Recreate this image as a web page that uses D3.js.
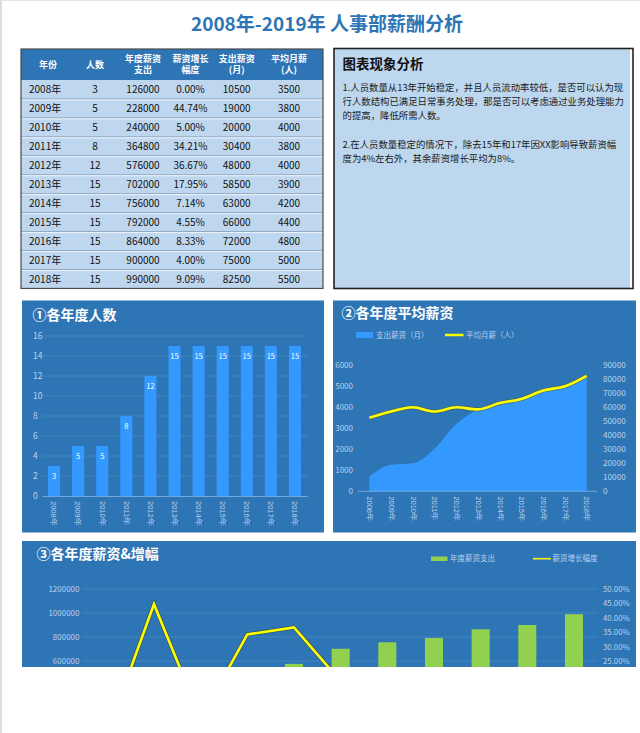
<!DOCTYPE html>
<html><head><meta charset="utf-8">
<script src="https://cdn.jsdelivr.net/npm/d3@7"></script>
<style>
html,body{margin:0;padding:0;background:#fff;}
svg{display:block;font-family:"Noto Sans CJK SC","Microsoft YaHei",sans-serif;}
</style></head>
<body>
<svg id="c" width="640" height="733"></svg>
<script>
// ---------- data ----------
const years = ['2008年','2009年','2010年','2011年','2012年','2013年','2014年','2015年','2016年','2017年','2018年'];
const headcount = [3,5,5,8,12,15,15,15,15,15,15];
const annualPay = [126000,228000,240000,364800,576000,702000,756000,792000,864000,900000,990000];
const growthRate = [0,0.4474,0.05,0.3421,0.3667,0.1795,0.0714,0.0455,0.0833,0.04,0.0909];
const monthlyPay = [10500,19000,20000,30400,48000,58500,63000,66000,72000,75000,82500];
const avgMonthly = [3500,3800,4000,3800,4000,3900,4200,4400,4800,5000,5500];
const headers = [['年份'],['人数'],['年度薪资','支出'],['薪资增长','幅度'],['支出薪资','(月)'],['平均月薪','(人)']];
const countTicks = [0,2,4,6,8,10,12,14,16];
const salaryTicks = [0,1000,2000,3000,4000,5000,6000];
const monthTicks = [0,10000,20000,30000,40000,50000,60000,70000,80000,90000];
const payTicks = [0,200000,400000,600000,800000,1000000,1200000];
const rateTicks = [0,0.05,0.1,0.15,0.2,0.25,0.3,0.35,0.4,0.45,0.5];
const analysisTitle = '图表现象分析';
const analysisLines = ['1.人员数量从13年开始稳定，并且人员流动率较低，是否可以认为现','行人数结构已满足日常事务处理，那是否可以考虑通过业务处理能力','的提高，降低所需人数。','','2.在人员数量稳定的情况下，除去15年和17年因XX影响导致薪资幅','度为4%左右外，其余薪资增长平均为8%。'];

const svg = d3.select('#c');
const BG = '#2e75b6', BAR = '#3399ff', AX = '#bcd0ea', GRID = 'rgba(255,255,255,0.10)', YEL = '#ffff00', GRN = '#92d050';

// page edges
svg.append('rect').attr('x',0).attr('y',0).attr('width',2).attr('height',733).attr('fill','#dcdcdc');
svg.append('rect').attr('x',0).attr('y',0).attr('width',640).attr('height',1).attr('fill','#e4e4e4');

// title
svg.append('text').attr('x',327).attr('y',31).attr('text-anchor','middle')
  .attr('font-size',19).attr('font-weight','bold').attr('fill','#2e75b6').text('2008年-2019年 人事部薪酬分析');

// ---------- table ----------
const tX = 21, tW = 302, hdrTop = 49, hdrH = 31, rowH = 18.95;
const colC = [42, 95, 143, 190.5, 236.7, 289];
svg.append('rect').attr('x',tX).attr('y',hdrTop).attr('width',tW).attr('height',hdrH).attr('fill','#2e75b6');
headers.forEach((h,i)=>{
  const t = svg.append('text').attr('x', i===0?48:colC[i]).attr('text-anchor','middle')
    .attr('font-size',9).attr('font-weight','bold').attr('fill','#fff');
  if(h.length===1){ t.attr('y',hdrTop+hdrH/2+3.5).text(h[0]); }
  else { h.forEach((s,k)=> t.append('tspan').attr('x',colC[i]).attr('y',hdrTop+12.5+k*11.7).text(s)); }
});
const rowsTop = hdrTop+hdrH;
svg.append('rect').attr('x',tX).attr('y',rowsTop).attr('width',tW).attr('height',rowH*years.length).attr('fill','#bfd7ee');
years.forEach((y,i)=>{
  const ry = rowsTop + i*rowH;
  if(i>0){
    svg.append('line').attr('x1',tX).attr('x2',tX+tW).attr('y1',ry).attr('y2',ry).attr('stroke','#8fa6c0').attr('stroke-width',1);
    svg.append('line').attr('x1',tX).attr('x2',tX+tW).attr('y1',ry+1).attr('y2',ry+1).attr('stroke','#eef5fc').attr('stroke-width',1);
  }
  const vals = [y, headcount[i], annualPay[i], (growthRate[i]*100).toFixed(2)+'%', monthlyPay[i], avgMonthly[i]];
  vals.forEach((v,j)=>{
    svg.append('text').attr('x', j===0?29:colC[j]).attr('y', ry+rowH/2+3.6)
      .attr('text-anchor', j===0?'start':'middle').attr('font-size',10).attr('fill','#111').text(v);
  });
});
svg.append('rect').attr('x',tX).attr('y',hdrTop).attr('width',tW).attr('height',hdrH+rowH*years.length)
  .attr('fill','none').attr('stroke','#4a4a4a').attr('stroke-width',1.2);

// ---------- analysis box ----------
svg.append('rect').attr('x',334).attr('y',48.5).attr('width',299).attr('height',240).attr('fill','#fdfdfd');
svg.append('rect').attr('x',334).attr('y',48.5).attr('width',296).attr('height',240).attr('fill','#bdd7ee');
svg.append('rect').attr('x',334).attr('y',48.5).attr('width',299).attr('height',240).attr('fill','none').attr('stroke','#222').attr('stroke-width',1.6);
svg.append('text').attr('x',342.5).attr('y',69).attr('font-size',13.5).attr('font-weight','bold').attr('fill','#111').text(analysisTitle);
analysisLines.forEach((s,i)=>{
  if(!s) return;
  svg.append('text').attr('x',342.5).attr('y',91+i*14.2).attr('font-size',9.4).attr('fill','#1a1a1a').text(s);
});

function styleAxisText(g, size){
  g.selectAll('text').attr('fill',AX).attr('font-size',size).attr('font-family','"Noto Sans CJK SC",sans-serif');
  g.select('.domain').remove();
}
function rotLabels(g){
  g.selectAll('text').attr('transform','rotate(90)').attr('x',5).attr('y',0).attr('dy','0.36em')
    .style('text-anchor','start').attr('fill',AX).attr('font-size',7.5);
}

// ---------- chart 1 ----------
{
  svg.append('rect').attr('x',22).attr('y',300.5).attr('width',302).attr('height',232).attr('fill',BG);
  svg.append('text').attr('x',32.5).attr('y',320).attr('font-size',14).attr('font-weight','bold').attr('fill','#fff').text('①各年度人数');
  const x = d3.scaleBand().domain(years).range([42,307]).paddingInner(0.5).paddingOuter(0.25);
  const y = d3.scaleLinear().domain([0,16]).range([496,336]);
  svg.append('g').selectAll('line').data(countTicks.slice(1)).join('line')
    .attr('x1',42).attr('x2',307).attr('y1',d=>y(d)).attr('y2',d=>y(d)).attr('stroke',GRID);
  const ya = svg.append('g').attr('transform','translate(33,0)').call(d3.axisRight(y).tickValues(countTicks).tickSize(0).tickPadding(0));
  styleAxisText(ya, 8.5);
  svg.append('g').selectAll('rect').data(headcount).join('rect')
    .attr('x',(d,i)=>x(years[i])).attr('y',d=>y(d)).attr('width',x.bandwidth()).attr('height',d=>y(0)-y(d)).attr('fill',BAR);
  svg.append('g').selectAll('text').data(headcount).join('text')
    .attr('x',(d,i)=>x(years[i])+x.bandwidth()/2).attr('y',d=>y(d)+13).attr('text-anchor','middle')
    .attr('font-size',7.5).attr('fill','#fff').text(d=>d);
  const xa = svg.append('g').attr('transform',`translate(0,${y(0)})`).call(d3.axisBottom(x).tickSize(0).tickPadding(0));
  xa.select('.domain').attr('stroke','#6fa8de').attr('stroke-width',1);
  rotLabels(xa);
}

// ---------- chart 2 ----------
{
  svg.append('rect').attr('x',333).attr('y',300.5).attr('width',303).attr('height',232).attr('fill',BG);
  svg.append('text').attr('x',341.5).attr('y',317.5).attr('font-size',14).attr('font-weight','bold').attr('fill','#fff').text('②各年度平均薪资');
  // legend
  svg.append('rect').attr('x',356).attr('y',332).attr('width',17).attr('height',6).attr('fill',BAR);
  svg.append('text').attr('x',376).attr('y',337.5).attr('font-size',7.5).attr('fill',AX).text('支出薪资（月）');
  svg.append('line').attr('x1',445).attr('x2',463.5).attr('y1',335).attr('y2',335).attr('stroke',YEL).attr('stroke-width',2.5);
  svg.append('text').attr('x',466).attr('y',337.5).attr('font-size',7.5).attr('fill',AX).text('平均月薪（人）');

  const x = d3.scalePoint().domain(years).range([369.3,586.7]);
  const yL = d3.scaleLinear().domain([0,6000]).range([491.3,365.3]);
  const yR = d3.scaleLinear().domain([0,90000]).range([491.3,365.3]);
  const area = d3.area().x((d,i)=>x(years[i])).y0(yR(0)).y1(d=>yR(d)).curve(d3.curveMonotoneX);
  svg.append('path').datum(monthlyPay).attr('d',area).attr('fill',BAR);
  const line = d3.line().x((d,i)=>x(years[i])).y(d=>yL(d)).curve(d3.curveMonotoneX);
  svg.append('path').datum(avgMonthly).attr('d',line).attr('fill','none').attr('stroke','#4f5f3a').attr('stroke-width',4.2).attr('stroke-opacity',0.6);
  svg.append('path').datum(avgMonthly).attr('d',line).attr('fill','none').attr('stroke',YEL).attr('stroke-width',2.6);
  const la = svg.append('g').attr('transform','translate(353,0)').call(d3.axisLeft(yL).tickValues(salaryTicks).tickSize(0).tickPadding(0).tickFormat(d3.format('d')));
  styleAxisText(la, 8);
  const ra = svg.append('g').attr('transform','translate(603,0)').call(d3.axisRight(yR).tickValues(monthTicks).tickSize(0).tickPadding(0).tickFormat(d3.format('d')));
  styleAxisText(ra, 8.2);
  svg.append('line').attr('x1',358).attr('x2',597.5).attr('y1',yR(0)).attr('y2',yR(0)).attr('stroke','#6fa8de');
  const xa = svg.append('g').attr('transform',`translate(0,${yR(0)})`).call(d3.axisBottom(x).tickSize(0).tickPadding(0));
  xa.select('.domain').remove();
  rotLabels(xa);
}

// ---------- chart 3 ----------
{
  const clip = svg.append('clipPath').attr('id','c3');
  clip.append('rect').attr('x',22).attr('y',541).attr('width',614).attr('height',126);
  const g = svg.append('g').attr('clip-path','url(#c3)');
  g.append('rect').attr('x',22).attr('y',541).attr('width',614).attr('height',126).attr('fill',BG);
  g.append('text').attr('x',36.5).attr('y',558.5).attr('font-size',14).attr('font-weight','bold').attr('fill','#fff').text('③各年度薪资&增幅');
  g.append('rect').attr('x',431).attr('y',556.5).attr('width',16.5).attr('height',4.5).attr('fill',GRN);
  g.append('text').attr('x',450).attr('y',561.2).attr('font-size',7.5).attr('fill',AX).text('年度薪资支出');
  g.append('line').attr('x1',533).attr('x2',551).attr('y1',558.7).attr('y2',558.7).attr('stroke',YEL).attr('stroke-width',1.6);
  g.append('text').attr('x',552.5).attr('y',561.2).attr('font-size',7.5).attr('fill',AX).text('薪资增长幅度');

  const x = d3.scaleBand().domain(years).range([84,597.3]).paddingInner(0.614).paddingOuter(0.307);
  const yL = d3.scaleLinear().domain([0,1200000]).range([733,589]);
  const yR = d3.scaleLinear().domain([0,0.5]).range([733,589]);
  const bottom = 668;
  g.append('g').selectAll('line').data(payTicks.slice(1)).join('line')
    .attr('x1',83).attr('x2',597).attr('y1',d=>yL(d)).attr('y2',d=>yL(d)).attr('stroke',GRID);
  g.append('g').selectAll('rect').data(annualPay).join('rect')
    .attr('x',(d,i)=>x(years[i])).attr('y',d=>yL(d)).attr('width',x.bandwidth()).attr('height',d=>yL(0)-yL(d)).attr('fill',GRN);
  const line = d3.line().x((d,i)=>x(years[i])+x.bandwidth()/2).y(d=>yR(d));
  g.append('path').datum(growthRate).attr('d',line).attr('fill','none').attr('stroke','#3a4020').attr('stroke-width',4.2).attr('stroke-opacity',0.55).attr('stroke-linejoin','miter');
  g.append('path').datum(growthRate).attr('d',line).attr('fill','none').attr('stroke',YEL).attr('stroke-width',2.6).attr('stroke-linejoin','miter');
  // only the tick labels inside the visible (cropped) panel are drawn
  const la = g.append('g').attr('transform','translate(79.5,0)').call(d3.axisLeft(yL).tickValues(payTicks.filter(d=>yL(d)<=bottom)).tickSize(0).tickPadding(0).tickFormat(d3.format('d')));
  styleAxisText(la, 8);
  const ra = g.append('g').attr('transform','translate(603,0)').call(d3.axisRight(yR).tickValues(rateTicks.filter(d=>yR(d)<=bottom)).tickSize(0).tickPadding(0).tickFormat(d3.format('.2%')));
  styleAxisText(ra, 7.8);
}
</script>
</body></html>
